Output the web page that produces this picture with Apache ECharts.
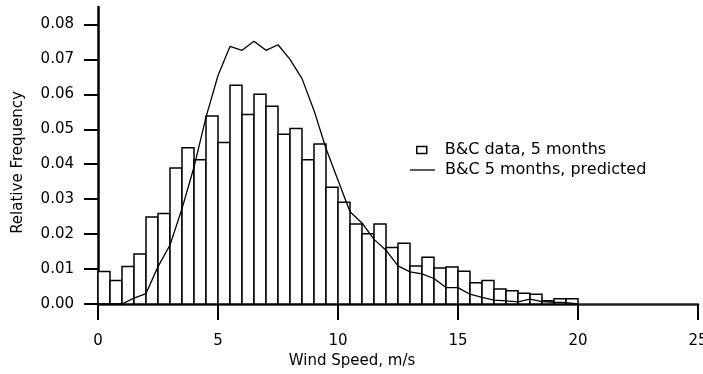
<!DOCTYPE html>
<html>
<head>
<meta charset="utf-8">
<script src="https://cdn.jsdelivr.net/npm/echarts@6/dist/echarts.min.js"></script>
<style>
  html, body { margin: 0; padding: 0; background: #fff; }
  #main { width: 703px; height: 374px; }
</style>
</head>
<body>
<div id="main"></div>
<script>
// histogram bins, 0.5 m/s wide
const binLeft = [0, 0.5, 1, 1.5, 2, 2.5, 3, 3.5, 4, 4.5, 5, 5.5, 6, 6.5, 7, 7.5, 8, 8.5, 9, 9.5,
  10, 10.5, 11, 11.5, 12, 12.5, 13, 13.5, 14, 14.5, 15, 15.5, 16, 16.5, 17, 17.5, 18, 18.5, 19, 19.5];
const binRight = [0.5, 1, 1.5, 2, 2.5, 3, 3.5, 4, 4.5, 5, 5.5, 6, 6.5, 7, 7.5, 8, 8.5, 9, 9.5, 10,
  10.5, 11, 11.5, 12, 12.5, 13, 13.5, 14, 14.5, 15, 15.5, 16, 16.5, 17, 17.5, 18, 18.5, 19, 19.5, 20];
const measured = [0.0093, 0.0067, 0.0107, 0.0143, 0.0249, 0.0259, 0.0389, 0.0447, 0.0413, 0.0538,
  0.0462, 0.0626, 0.0542, 0.0600, 0.0566, 0.0486, 0.0502, 0.0413, 0.0458, 0.0334,
  0.0291, 0.0229, 0.0201, 0.0229, 0.0162, 0.0174, 0.0109, 0.0134, 0.0103, 0.0106,
  0.0094, 0.0061, 0.0067, 0.0043, 0.0038, 0.0031, 0.0028, 0.0009, 0.0015, 0.0015];

// predicted curve, sampled at the bin edges
const predSpeed = [0, 0.5, 1, 1.5, 2, 2.5, 3, 3.5, 4, 4.5, 5, 5.5, 6, 6.5, 7, 7.5, 8, 8.5, 9, 9.5, 10,
  10.5, 11, 11.5, 12, 12.5, 13, 13.5, 14, 14.5, 15, 15.5, 16, 16.5, 17, 17.5, 18, 18.5, 19, 19.5, 20];
const predicted = [0, 0, 0, 0.0017, 0.0030, 0.0107, 0.0169, 0.0273, 0.0392, 0.0535, 0.0654,
  0.0737, 0.0726, 0.0752, 0.0726, 0.0742, 0.0700, 0.0645, 0.0554, 0.0445, 0.0354,
  0.0264, 0.0232, 0.0185, 0.0154, 0.0109, 0.0092, 0.0086, 0.0073, 0.0047, 0.0047,
  0.0028, 0.0019, 0.0011, 0.0009, 0.0006, 0.0014, 0.0007, 0.0005, 0.0004, 0];

const yTicks = [0, 0.01, 0.02, 0.03, 0.04, 0.05, 0.06, 0.07, 0.08];

const FONT = 'DejaVu Sans';
const NAME_BARS = 'B&C data, 5 months';
const NAME_LINE = 'B&C 5 months, predicted';

function getOption() {
  return {
    animation: false,
    backgroundColor: '#fff',
    // keep the plot box fixed; the "25" label is allowed to run off the edge
    grid: { left: 98, right: 5, top: 7, bottom: 70, outerBoundsMode: 'none' },
    legend: [
      {
        left: 416, top: 142, padding: 0,
        itemWidth: 10, itemHeight: 7,
        textStyle: { fontFamily: FONT, fontSize: 16, color: '#000', padding: [0, 0, 0, 13] },
        data: [{ name: NAME_BARS, icon: 'rect', itemStyle: { color: '#fff', borderColor: '#000', borderWidth: 1.5 } }]
      },
      {
        left: 410, top: 162, padding: 0,
        itemWidth: 25, itemHeight: 1.3,
        textStyle: { fontFamily: FONT, fontSize: 16, color: '#000', padding: [0, 0, 0, 5] },
        data: [{ name: NAME_LINE, icon: 'rect', itemStyle: { color: '#000' } }]
      }
    ],
    xAxis: {
      type: 'value',
      min: 0, max: 25, interval: 5,
      name: 'Wind Speed, m/s',
      nameLocation: 'middle',
      nameGap: 49,
      nameTextStyle: { fontFamily: FONT, fontSize: 15, color: '#000', padding: [0, 92, 0, 0] },
      axisLine: { lineStyle: { color: '#222', width: 2.5 } },
      axisTick: { length: 16, lineStyle: { color: '#000', width: 2 } },
      axisLabel: { margin: 30, fontFamily: FONT, fontSize: 15, color: '#000' },
      splitLine: { show: false }
    },
    yAxis: {
      type: 'value',
      min: 0, max: 0.085,
      name: 'Relative Frequency',
      nameLocation: 'middle',
      nameGap: 72,
      nameTextStyle: { fontFamily: FONT, fontSize: 15, color: '#000', padding: [0, 14, 0, 0] },
      axisLine: { show: true, lineStyle: { color: '#000', width: 2.5 } },
      axisTick: { show: true, length: 14, customValues: yTicks, lineStyle: { color: '#000', width: 2 } },
      axisLabel: {
        margin: 24, fontFamily: FONT, fontSize: 15, color: '#000',
        customValues: yTicks,
        formatter: v => v.toFixed(2)
      },
      splitLine: { show: false }
    },
    series: [
      {
        name: NAME_BARS,
        type: 'custom',
        z: 2,
        itemStyle: { color: '#fff', borderColor: '#000' },
        encode: { x: [0, 1], y: 2 },
        data: binLeft.map((x, i) => [x, binRight[i], measured[i]]),
        renderItem: function (params, api) {
          const top = api.coord([api.value(0), api.value(2)]);
          const bottom = api.coord([api.value(1), 0]);
          return {
            type: 'rect',
            shape: { x: top[0], y: top[1], width: bottom[0] - top[0], height: bottom[1] - top[1] },
            style: { fill: '#fff', stroke: '#000', lineWidth: 1.5 }
          };
        }
      },
      {
        name: NAME_LINE,
        type: 'line',
        z: 3,
        showSymbol: false,
        symbol: 'none',
        color: '#000',
        lineStyle: { color: '#000', width: 1.3 },
        data: predSpeed.map((x, i) => [x, predicted[i]])
      }
    ]
  };
}

const chart = echarts.init(document.getElementById('main'), null, { renderer: 'canvas' });
chart.setOption(getOption());
</script>
</body>
</html>
